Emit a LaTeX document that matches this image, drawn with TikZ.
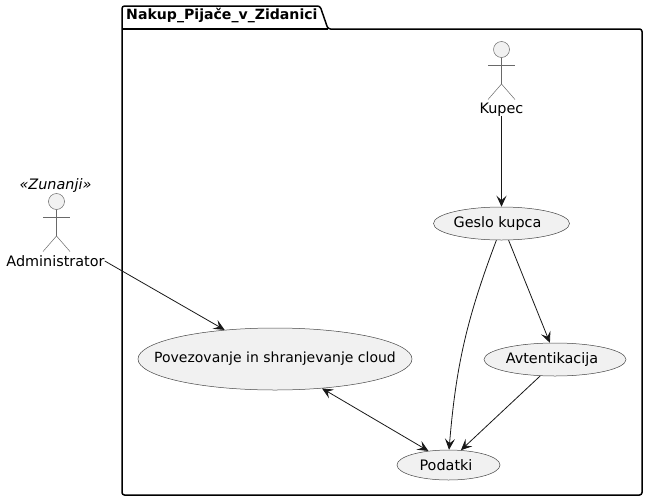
\documentclass[tikz,border=0pt]{standalone}
\usepackage{fontspec}
\setmainfont{DejaVu Sans}
\usetikzlibrary{arrows.meta,shapes.geometric}
\definecolor{umlfill}{HTML}{F1F1F1}
\definecolor{umlline}{HTML}{181818}
\tikzset{
usecase/.style={ellipse,draw=umlline!80,fill=umlfill,line width=0.5pt,inner xsep=-30pt,inner ysep=-4pt,font=\fontsize{14.4}{16}\selectfont},
actorname/.style={inner sep=0pt,text=black,font=\fontsize{14.4}{16}\selectfont},
stick/.style={draw=umlline!65,line width=0.5pt},
link/.style={draw=umlline,line width=0.8pt,-{Stealth[length=11pt,width=10pt,inset=4.5pt]}},
}
\newcommand{\stickman}[2]{
\draw[stick,fill=umlfill] (#1,#2) circle (8);
\draw[stick] (#1,#2+8) -- (#1,#2+34.5);
\draw[stick] (#1-13.5,#2+15.5) -- (#1+13.5,#2+15.5);
\draw[stick] (#1-13.5,#2+50) -- (#1,#2+34.5) -- (#1+13.5,#2+50);
}
\begin{document}
\begin{tikzpicture}[x=1pt,y=-1pt]
\useasboundingbox (0,0) rectangle (648,501);
\draw[black,line width=1.5pt,rounded corners=2.5pt] (122,29) -- (122,6) -- (320,6) -- (328,29) -- (642,29) -- (642,495) -- (122,495) -- cycle;
\draw[black,line width=1.5pt] (122,29) -- (328,29);
\node[inner sep=0pt,anchor=west,font=\bfseries\fontsize{14.1}{16}\selectfont] (pkg) at (126,16){Nakup\_Pijače\_v\_Zidanici};
\stickman{56.5}{201.5}
\stickman{501.5}{49.5}
\node[actorname,font=\itshape\fontsize{14.4}{16}\selectfont] (zun) at (55.5,186){«Zunanji»};
\node[actorname] (admin) at (55.5,261){Administrator};
\node[actorname] (kupec) at (501.5,109.5){Kupec};
\node[usecase,minimum width=136pt,minimum height=33pt] (geslo) at (501.5,223.5){Geslo kupca\hspace*{8pt}};
\node[usecase,minimum width=274pt,minimum height=62pt,font=\fontsize{14}{16}\selectfont] (cloud) at (275,359){Povezovanje in shranjevanje cloud};
\node[usecase,minimum width=142pt,minimum height=33pt] (avt) at (555,359.5){Avtentikacija\hspace*{6pt}};
\node[usecase,minimum width=103pt,minimum height=30pt] (pod) at (448.5,465){Podatki\hspace*{5pt}};
\draw[link] (admin.east) -- (cloud.150.6);
\draw[link] (kupec.south) -- (geslo.north);
\draw[link] (geslo.-67) -- (avt.107);
\draw[link] (geslo.-107) to [bend right=8] (pod.88);
\draw[link] (avt.-132) -- (pod.50);
\draw[link,{Stealth[length=11pt,width=10pt,inset=4.5pt]}-{Stealth[length=11pt,width=10pt,inset=4.5pt]}] (cloud.-32.8) -- (pod.145.7);
\end{tikzpicture}
\end{document}
